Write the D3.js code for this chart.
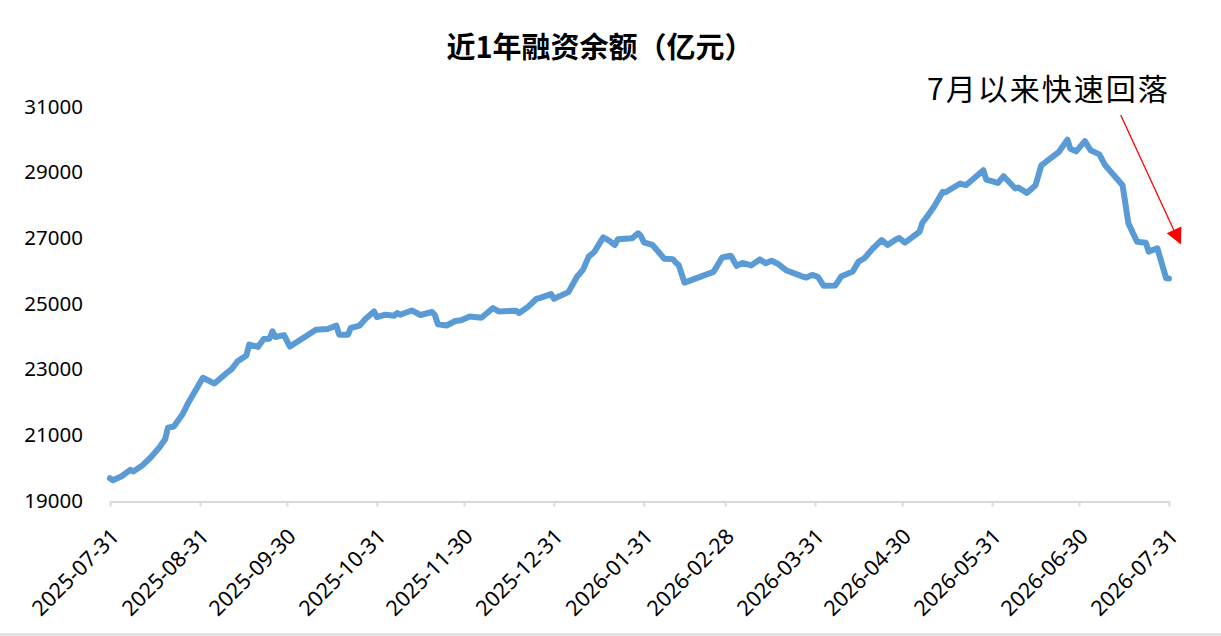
<!DOCTYPE html>
<html><head><meta charset="utf-8">
<script src="https://cdn.jsdelivr.net/npm/d3@7"></script>
<style>body{margin:0;background:#fff;} svg{display:block;}</style>
</head><body><svg id="c" width="1221" height="636"></svg>
<script>
const chartTitle = "近1年融资余额（亿元）";
const annotationText = "7月以来快速回落";
const dates = ["2025-07-31","2025-08-01","2025-08-04","2025-08-07","2025-08-08","2025-08-11","2025-08-14","2025-08-17","2025-08-19","2025-08-20","2025-08-22","2025-08-25","2025-08-27","2025-08-30","2025-09-01","2025-09-05","2025-09-09","2025-09-11","2025-09-13","2025-09-16","2025-09-17","2025-09-20","2025-09-22","2025-09-24","2025-09-25","2025-09-26","2025-09-29","2025-10-01","2025-10-10","2025-10-14","2025-10-17","2025-10-18","2025-10-21","2025-10-22","2025-10-25","2025-10-27","2025-10-30","2025-10-31","2025-11-03","2025-11-06","2025-11-07","2025-11-08","2025-11-12","2025-11-15","2025-11-19","2025-11-20","2025-11-21","2025-11-24","2025-11-27","2025-11-29","2025-12-02","2025-12-06","2025-12-10","2025-12-12","2025-12-18","2025-12-19","2025-12-22","2025-12-25","2025-12-26","2025-12-30","2025-12-31","2026-01-05","2026-01-08","2026-01-10","2026-01-12","2026-01-14","2026-01-17","2026-01-19","2026-01-21","2026-01-22","2026-01-27","2026-01-29","2026-01-30","2026-01-31","2026-02-03","2026-02-05","2026-02-07","2026-02-10","2026-02-11","2026-02-12","2026-02-14","2026-02-24","2026-02-27","2026-03-02","2026-03-04","2026-03-06","2026-03-09","2026-03-12","2026-03-14","2026-03-16","2026-03-18","2026-03-21","2026-03-25","2026-03-26","2026-03-28","2026-03-30","2026-04-01","2026-04-03","2026-04-07","2026-04-09","2026-04-13","2026-04-15","2026-04-17","2026-04-20","2026-04-23","2026-04-25","2026-04-28","2026-04-29","2026-05-01","2026-05-06","2026-05-07","2026-05-09","2026-05-11","2026-05-14","2026-05-15","2026-05-20","2026-05-22","2026-05-26","2026-05-28","2026-05-29","2026-06-02","2026-06-04","2026-06-08","2026-06-09","2026-06-12","2026-06-15","2026-06-17","2026-06-20","2026-06-23","2026-06-26","2026-06-27","2026-06-29","2026-07-02","2026-07-04","2026-07-07","2026-07-09","2026-07-15","2026-07-17","2026-07-20","2026-07-23","2026-07-24","2026-07-27","2026-07-30","2026-07-31"];
const balance = [19710,19650,19770,19965,19916,20086,20341,20644,20896,21251,21282,21655,22010,22465,22768,22595,22899,23041,23272,23445,23779,23709,23950,23960,24182,24012,24067,23718,24234,24255,24355,24082,24080,24285,24355,24558,24789,24619,24689,24658,24740,24689,24819,24680,24771,24674,24401,24361,24498,24522,24637,24598,24892,24789,24810,24740,24922,25174,25195,25317,25174,25377,25851,26054,26458,26609,27046,26943,26813,26986,27016,27168,27086,26894,26813,26609,26397,26382,26282,26206,25666,25993,26433,26485,26175,26266,26191,26373,26257,26333,26251,26045,25911,25872,25820,25902,25842,25569,25580,25851,26003,26306,26409,26712,26964,26813,26986,27025,26882,27216,27489,27723,27975,28430,28420,28685,28633,28936,29088,28806,28703,28906,28533,28563,28399,28633,29240,29443,29643,30020,29746,29665,29977,29695,29573,29240,28633,27471,26913,26882,26609,26712,25802,25790];
const xTickLabels = ["2025-07-31","2025-08-31","2025-09-30","2025-10-31","2025-11-30","2025-12-31","2026-01-31","2026-02-28","2026-03-31","2026-04-30","2026-05-31","2026-06-30","2026-07-31"];
const yTickValues = [19000,21000,23000,25000,27000,29000,31000];

const parse = d3.utcParse("%Y-%m-%d");
const fmt = d3.utcFormat("%Y-%m-%d");
const points = dates.map((d, i) => ({date: parse(d), value: balance[i]}));
const xTicks = xTickLabels.map(parse);

const svg = d3.select("#c");
const x = d3.scaleUtc().domain([xTicks[0], xTicks[xTicks.length - 1]]).range([110, 1169]);
const y = d3.scaleLinear().domain([yTickValues[0], yTickValues[yTickValues.length - 1]]).range([501.5, 107.5]);

// bottom border
svg.append("line").attr("x1", 0).attr("x2", 1221).attr("y1", 634.5).attr("y2", 634.5)
  .attr("stroke", "#d9d9d9").attr("stroke-width", 2);

// title
svg.append("text").attr("x", 600).attr("y", 58).attr("text-anchor", "middle")
  .attr("font-family", "'Noto Sans CJK SC', sans-serif").attr("font-weight", "bold")
  .attr("font-size", 29).attr("fill", "#000").text(chartTitle);

// x axis
const xAxis = svg.append("g").attr("transform", `translate(0,${y(yTickValues[0])})`)
  .call(d3.axisBottom(x).tickValues(xTicks).tickFormat(fmt).tickSize(5).tickSizeOuter(0));
xAxis.select(".domain").attr("stroke", "#d9d9d9").attr("stroke-width", 2);
xAxis.selectAll(".tick line").attr("stroke", "#d9d9d9").attr("stroke-width", 2);
xAxis.selectAll(".tick text")
  .attr("font-family", "'Noto Sans', sans-serif").attr("font-size", 21.5).attr("fill", "#000")
  .attr("text-anchor", "end").attr("dy", "0.35em")
  .attr("transform", "translate(4.5,31) rotate(-45)").attr("y", 0).attr("x", 0);

// y axis labels
const yAxis = svg.append("g").attr("transform", "translate(83,0)")
  .call(d3.axisLeft(y).tickValues(yTickValues).tickFormat(d3.format("d")).tickSize(0).tickPadding(0));
yAxis.select(".domain").remove();
yAxis.selectAll(".tick text")
  .attr("font-family", "'Noto Sans', sans-serif").attr("font-size", 20.5).attr("fill", "#000")
  .attr("dy", "0.28em");

// line
const line = d3.line().x(d => x(d.date)).y(d => y(d.value));
svg.append("path").datum(points).attr("d", line)
  .attr("fill", "none").attr("stroke", "#5b9bd5").attr("stroke-width", 6)
  .attr("stroke-linejoin", "round").attr("stroke-linecap", "round");

// annotation
svg.append("text").attr("x", 927).attr("y", 100)
  .attr("font-family", "'Noto Sans CJK SC', sans-serif").attr("font-size", 30)
  .attr("letter-spacing", 2).attr("fill", "#000").text(annotationText);

svg.append("line").attr("x1", 1120.7).attr("y1", 115).attr("x2", 1174).attr("y2", 230.5)
  .attr("stroke", "#ff0000").attr("stroke-width", 1.3);
svg.append("polygon").attr("points", "1166.7,233.3 1181.3,226.5 1181,244.5").attr("fill", "#ff0000");
</script>
</body></html>
